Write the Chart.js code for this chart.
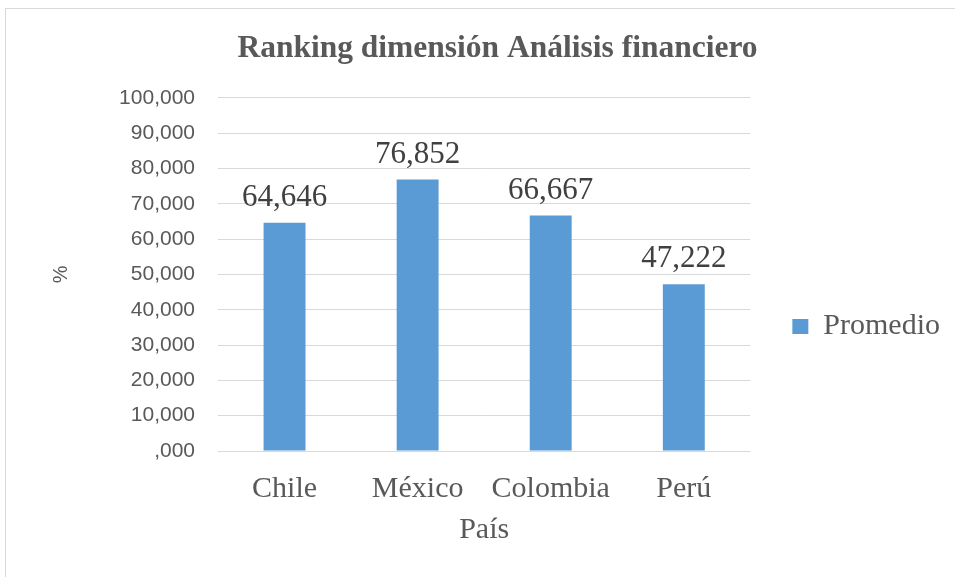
<!DOCTYPE html>
<html>
<head>
<meta charset="utf-8">
<script src="https://cdn.jsdelivr.net/npm/chart.js@4.4.1/dist/chart.umd.min.js"></script>
<style>
  html, body { margin: 0; padding: 0; background: #fff; overflow: hidden; }
  #frame {
    position: absolute; left: 5px; top: 8px;
    width: 960px; height: 580px;
    border: 1px solid #d9d9d9;
  }
  #wrap { position: absolute; left: 0; top: 0; width: 955px; height: 577px; }
</style>
</head>
<body>
<div id="frame"></div>
<div id="wrap"><canvas id="chart"></canvas></div>
<script>
/* ── Data ── */
const paises   = ['Chile', 'México', 'Colombia', 'Perú'];
const promedio = [64.646, 76.852, 66.667, 47.222];

/* ── Shared styles ── */
const TEXT_GRAY  = '#595959';
const LABEL_GRAY = '#404040';
const GRID_COLOR = '#d9d9d9';
const BAR_COLOR  = '#5b9bd5';
const SERIF = '"Liberation Serif", "Times New Roman", serif';
const SANS  = '"Liberation Sans", Arial, sans-serif';

/* 64.646 -> "64,646", 0 -> ",000" */
const fmtComa = v => (v === 0 ? ',000' : v.toFixed(3).replace('.', ','));

/* Value labels above each bar */
const barValues = {
  id: 'barValues',
  afterDatasetsDraw(chart) {
    const ctx = chart.ctx;
    const meta = chart.getDatasetMeta(0);
    ctx.save();
    ctx.font = '31px ' + SERIF;
    ctx.fillStyle = LABEL_GRAY;
    ctx.textAlign = 'center';
    ctx.textBaseline = 'alphabetic';
    meta.data.forEach((bar, i) => {
      ctx.fillText(fmtComa(chart.data.datasets[0].data[i]), bar.x, bar.y - 17);
    });
    ctx.restore();
  },
};

new Chart(document.getElementById('chart'), {
  type: 'bar',
  data: {
    labels: paises,
    datasets: [{
      label: 'Promedio',
      data: promedio,
      backgroundColor: BAR_COLOR,
      borderWidth: 0,
      barPercentage: 0.315,
      categoryPercentage: 1,
    }],
  },
  options: {
    responsive: true,
    maintainAspectRatio: false,
    animation: false,
    layout: { padding: { left: 45, right: 5, top: 0, bottom: 29 } },
    plugins: {
      title: {
        display: true,
        text: 'Ranking dimensión Análisis financiero',
        color: TEXT_GRAY,
        font: { family: SERIF, size: 31.5, weight: 'bold' },
        padding: { top: 30, bottom: 30 },
      },
      legend: {
        position: 'right',
        title: { display: true, text: ' ', font: { size: 10 }, padding: { top: 93, bottom: 0 } },
        labels: {
          color: TEXT_GRAY,
          font: { family: SERIF, size: 30 },
          boxWidth: 16,
          boxHeight: 15,
          padding: 42,
        },
      },
      tooltip: { enabled: false },
    },
    scales: {
      x: {
        afterFit: s => { s.height = 97; },
        grid: { display: false, drawTicks: false },
        border: { display: false },
        ticks: { color: TEXT_GRAY, font: { family: SERIF, size: 30 }, padding: 20 },
        title: {
          display: true,
          text: 'País',
          color: TEXT_GRAY,
          font: { family: SERIF, size: 30 },
          padding: { top: 5, bottom: 0 },
        },
      },
      y: {
        min: 0,
        max: 100,
        afterFit: s => { s.width = 173; },
        grid: { color: GRID_COLOR, lineWidth: 1, drawTicks: false },
        border: { display: false },
        ticks: {
          stepSize: 10,
          color: TEXT_GRAY,
          font: { family: SANS, size: 21 },
          padding: 23,
          callback: v => fmtComa(v),
        },
        title: {
          display: true,
          text: '%',
          color: TEXT_GRAY,
          font: { family: SANS, size: 20 },
          padding: { top: 4, bottom: 0 },
        },
      },
    },
  },
  plugins: [barValues],
});
</script>
</body>
</html>
